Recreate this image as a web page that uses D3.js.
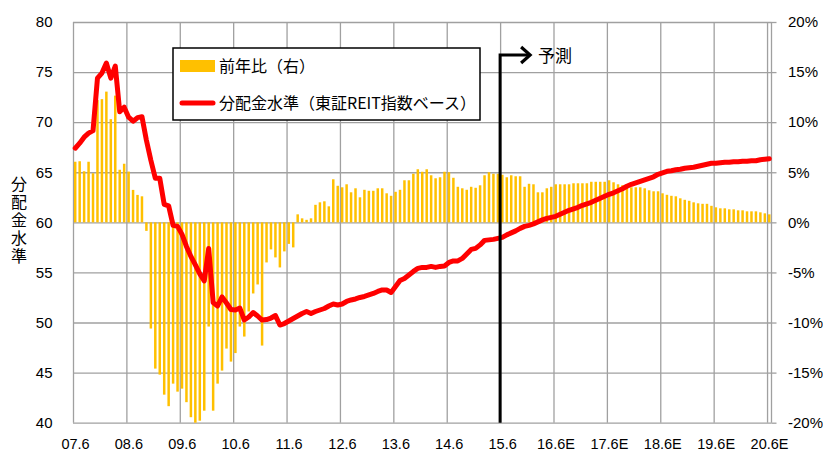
<!DOCTYPE html>
<html>
<head>
<meta charset="utf-8">
<script src="https://cdn.jsdelivr.net/npm/d3@7"></script>
<style>
  html, body { margin: 0; padding: 0; background: #fff; }
  svg { display: block; font-family: "Noto Sans CJK JP", "Noto Sans", sans-serif; }
</style>
</head>
<body>
<svg id="chart" width="823" height="454"></svg>
<script>
// x-axis labels, one per June (07.6 … 20.6E)
const yearLabels = ["07.6", "08.6", "09.6", "10.6", "11.6", "12.6", "13.6", "14.6",
                    "15.6", "16.6E", "17.6E", "18.6E", "19.6E", "20.6E"];
// left axis (distribution level, index) and right axis (YoY %) ticks
const levelTicks = [40, 45, 50, 55, 60, 65, 70, 75, 80];
const ratioTicks = [-20, -15, -10, -5, 0, 5, 10, 15, 20];

// monthly distribution level, 2007/6 … 2020/6
const level = [
  67.4, 67.9, 68.5, 68.9, 69.15, 74.4, 74.9, 75.9, 74.4, 75.6, 71.05, 71.5,
  70.5, 70.1, 70.45, 70.55, 68.2, 66.2, 64.4, 64.4, 61.8, 61.65, 59.7, 59.6,
  58.8, 57.6, 56.6, 55.75, 54.85, 54.15, 57.4, 52.0, 51.65, 52.55, 51.95, 51.3,
  51.25, 51.45, 50.25, 50.55, 51.0, 50.65, 50.25, 50.3, 50.45, 50.7, 49.75, 49.9,
  50.15, 50.4, 50.65, 50.9, 51.1, 50.9, 51.1, 51.25, 51.4, 51.65, 51.85, 51.75,
  51.85, 52.1, 52.25, 52.35, 52.5, 52.6, 52.75, 52.9, 53.1, 53.25, 53.25, 53.0,
  53.6, 54.2, 54.4, 54.75, 55.1, 55.4, 55.5, 55.5, 55.6, 55.5, 55.6, 55.65,
  56.0, 56.15, 56.15, 56.4, 56.85, 57.3, 57.4, 57.75, 58.2, 58.25, 58.3, 58.4,
  58.5, 58.75, 58.95, 59.15, 59.4, 59.6, 59.7, 59.85, 60.05, 60.25, 60.4, 60.5,
  60.6, 60.8, 61.0, 61.2, 61.35, 61.5, 61.7, 61.85, 62.0, 62.2, 62.4, 62.6,
  62.8, 62.95, 63.15, 63.35, 63.6, 63.8, 63.95, 64.1, 64.25, 64.4, 64.55, 64.8,
  64.95, 65.1, 65.15, 65.25, 65.3, 65.4, 65.45, 65.5, 65.6, 65.7, 65.8, 65.9,
  65.9, 65.95, 66.0, 66.0, 66.05, 66.05, 66.1, 66.1, 66.15, 66.15, 66.25, 66.3,
  66.35
];

// monthly year-on-year change, %
const ratio = [
  6.05, 6.1, 5.1, 6.05, 4.9, 12.2, 12.3, 13.05, 10.3, 12.65, 5.25, 5.85,
  5.07, 3.24, 2.74, 2.6, -0.85, -10.6, -14.6, -15.2, -17.2, -18.35, -16.1, -16.9,
  -16.6, -17.95, -19.45, -20.0, -19.8, -18.8, -10.4, -18.8, -16.1, -14.8, -12.6, -13.9,
  -13.05, -10.4, -11.4, -8.9, -7.1, -6.2, -12.3, -4.0, -2.7, -3.5, -4.5, -2.9,
  -2.15, -2.5, 0.8, 0.4, 0.25, 0.4, 1.75, 2.0, 2.1, 1.6, 4.3, 3.65,
  3.5, 3.8, 3.0, 3.4, 2.5, 3.25, 3.15, 3.15, 3.4, 3.4, 2.9, 2.65,
  3.05, 3.25, 4.2, 4.2, 4.85, 5.3, 5.05, 5.3, 4.7, 4.4, 4.5, 5.05,
  5.0, 4.45, 3.55, 3.4, 3.25, 3.55, 3.45, 3.7, 4.7, 5.0, 4.85, 4.85,
  4.75, 4.5, 4.7, 4.6, 4.6, 3.55, 3.85, 3.8, 3.0, 3.0, 3.4, 3.55,
  3.8, 3.8, 3.8, 3.8, 3.9, 3.9, 3.9, 3.9, 4.05, 4.05, 4.05, 4.05,
  4.2, 4.0, 3.8, 3.7, 3.6, 3.5, 3.5, 3.5, 3.4, 3.2, 3.1, 3.1,
  2.9, 2.75, 2.65, 2.6, 2.4, 2.25, 2.15, 2.0, 1.9, 1.85, 1.85, 1.65,
  1.5, 1.4, 1.4, 1.3, 1.3, 1.2, 1.2, 1.1, 1.1, 1.1, 1.0, 0.9,
  0.8
];

const legendLabels = ["前年比（右）", "分配金水準（東証REIT指数ベース）"];
const levelTitle = "分配金水準";
const forecastLabel = "予測";
const forecastFrom = "15.6";

// ---- layout ----
const plot = { left: 73, right: 771.5, top: 22, bottom: 422.7 };
const plotW = plot.right - plot.left, plotH = plot.bottom - plot.top;
const gridColor = "#a0a0a0";
const barColor = "#ffc000";
const lineColor = "#ff0000";

const months = d3.range(level.length);          // month index from 2007/6
const yearStarts = yearLabels.map((_, k) => k * 12);

const x = d3.scaleLinear().domain([0, months.length]).range([plot.left, plot.right]);
const xBand = d3.scaleBand().domain(months).range([plot.left, plot.right])
  .paddingInner(0.44).paddingOuter(0.22);
const yL = d3.scaleLinear().domain([40, 80]).range([plot.bottom, plot.top]);
const yR = d3.scaleLinear().domain([-20, 20]).range([plot.bottom, plot.top]);

const svg = d3.select("#chart");

// ---- grid ----
const gridY = svg.append("g").attr("transform", `translate(${plot.left},0)`)
  .call(d3.axisLeft(yL).tickValues(levelTicks).tickSize(-plotW).tickFormat(""));
gridY.select(".domain").remove();
gridY.selectAll("line").attr("stroke", gridColor).attr("stroke-width", 1.3);

const gridX = svg.append("g").attr("transform", `translate(0,${plot.bottom})`)
  .call(d3.axisBottom(x).tickValues(yearStarts).tickSize(-plotH).tickFormat(""));
gridX.select(".domain").remove();
gridX.selectAll("line").attr("stroke", gridColor).attr("stroke-width", 1.3);

svg.append("line")
  .attr("x1", plot.right).attr("x2", plot.right)
  .attr("y1", plot.top).attr("y2", plot.bottom)
  .attr("stroke", gridColor).attr("stroke-width", 1.3);

// ---- bars: YoY change on the right scale ----
svg.append("g").selectAll("rect").data(months).join("rect")
  .attr("x", i => xBand(i))
  .attr("width", xBand.bandwidth())
  .attr("y", i => Math.min(yR(ratio[i]), yR(0)))
  .attr("height", i => Math.abs(yR(ratio[i]) - yR(0)))
  .attr("fill", barColor);

// ---- distribution level line on the left scale ----
const line = d3.line().x(i => x(i + 0.5)).y(i => yL(level[i]));
svg.append("path").datum(months)
  .attr("d", line)
  .attr("fill", "none")
  .attr("stroke", lineColor)
  .attr("stroke-width", 5)
  .attr("stroke-linejoin", "round")
  .attr("stroke-linecap", "round");

// ---- forecast marker ----
const fx = x(yearLabels.indexOf(forecastFrom) * 12);
const fy = 55;
svg.append("path")
  .attr("d", `M${fx},${plot.bottom} V${fy} H${fx + 28}`)
  .attr("fill", "none").attr("stroke", "#000").attr("stroke-width", 3);
svg.append("path")
  .attr("d", `M${fx + 21},${fy - 8} L${fx + 30},${fy} L${fx + 21},${fy + 8}`)
  .attr("fill", "none").attr("stroke", "#000").attr("stroke-width", 3.2)
  .attr("stroke-linejoin", "miter");
svg.append("text")
  .attr("x", fx + 38).attr("y", fy + 1).attr("dy", "0.35em")
  .attr("font-size", 17).attr("fill", "#000")
  .text(forecastLabel);

// ---- axes labels ----
const axL = svg.append("g").attr("transform", `translate(${plot.left},0)`)
  .call(d3.axisLeft(yL).tickValues(levelTicks).tickSize(0).tickPadding(20.5));
axL.select(".domain").remove();
axL.selectAll("text").attr("font-size", 15).attr("font-family", null).attr("fill", "#000");

const axR = svg.append("g").attr("transform", `translate(${plot.right},0)`)
  .call(d3.axisRight(yR).tickValues(ratioTicks).tickSize(5).tickPadding(11.5)
    .tickFormat(d => d + "%"));
axR.select(".domain").remove();
axR.selectAll("line").attr("stroke", gridColor).attr("stroke-width", 1.3);
axR.selectAll("text").attr("font-size", 15).attr("font-family", null).attr("fill", "#000");

const axB = svg.append("g").attr("transform", `translate(0,${plot.bottom})`)
  .call(d3.axisBottom(x).tickValues(yearStarts).tickSize(0)
    .tickFormat((d, k) => yearLabels[k]));
axB.select(".domain").remove();
axB.selectAll("text").attr("font-size", 14.5).attr("font-family", null).attr("fill", "#000")
  .attr("y", 21.5).attr("dy", "0.35em").attr("dx", 2);

// vertical axis title, set top-to-bottom
svg.append("text")
  .attr("x", 19).attr("y", 221)
  .attr("writing-mode", "vertical-rl")
  .attr("text-anchor", "middle")
  .attr("font-size", 16).attr("letter-spacing", 2.2)
  .attr("fill", "#000")
  .text(levelTitle);

// ---- legend ----
const lg = svg.append("g");
lg.append("rect").attr("x", 173).attr("y", 48).attr("width", 307).attr("height", 72)
  .attr("fill", "#fff").attr("stroke", "#000").attr("stroke-width", 1.5);
lg.append("rect").attr("x", 180).attr("y", 60).attr("width", 35).attr("height", 12)
  .attr("fill", barColor);
lg.append("line").attr("x1", 182).attr("x2", 213).attr("y1", 103).attr("y2", 103)
  .attr("stroke", lineColor).attr("stroke-width", 5).attr("stroke-linecap", "round");
lg.selectAll("text.lab").data(legendLabels).join("text").attr("class", "lab")
  .attr("x", 219).attr("y", (d, k) => k ? 103 : 66).attr("dy", "0.35em")
  .attr("font-size", 16).attr("fill", "#000")
  .text(d => d);
</script>
</body>
</html>
